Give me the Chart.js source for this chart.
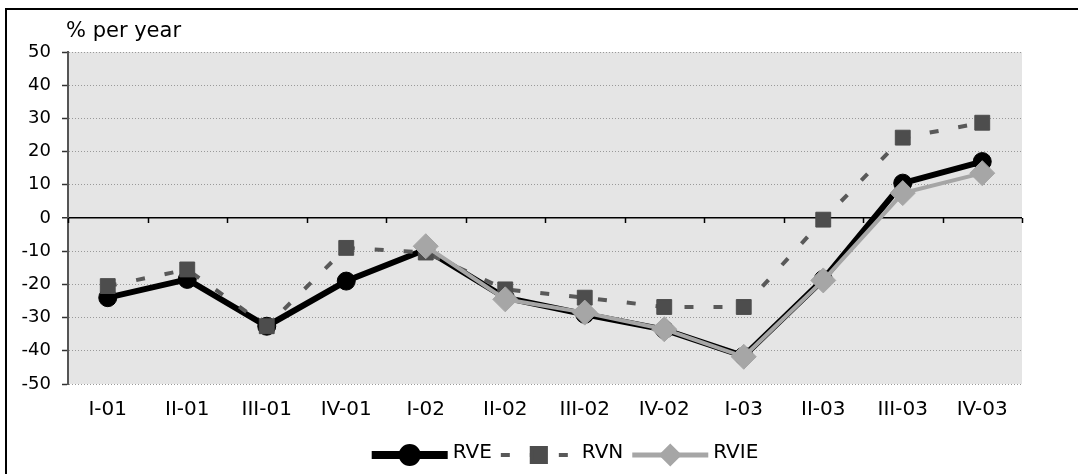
<!DOCTYPE html>
<html>
<head>
<meta charset="utf-8">
<script src="https://cdn.jsdelivr.net/npm/chart.js@4.4.1/dist/chart.umd.min.js"></script>
<style>
  body { margin: 0; background: #fff; }
  canvas { display: block; }
</style>
</head>
<body>
<canvas id="myChart" width="1078" height="474"></canvas>
<script>
// quarters
const quarters = ['I-01', 'II-01', 'III-01', 'IV-01', 'I-02', 'II-02', 'III-02', 'IV-02', 'I-03', 'II-03', 'III-03', 'IV-03'];

// % per year
const rve = [-24, -18.5, -32.6, -19, -9.5, -24, -29, -33.6, -41.6, -18.5, 10.5, 17];
const rvn = [-20.5, -15.5, -32.6, -9, -10.4, -21.5, -24, -26.8, -26.8, -0.5, 24.2, 28.7];
const rvie = [null, null, null, null, -8.5, -24.5, -28.5, -33.5, -41.8, -18.8, 7.5, 13.5];

const yTicks = [-50, -40, -30, -20, -10, 0, 10, 20, 30, 40, 50];

Chart.defaults.font.family = '"DejaVu Sans", Verdana, sans-serif';
Chart.defaults.color = '#000';

var ctx = document.getElementById('myChart');

// background, frame, zero line ticks, unit label, legend
const decor = {
  id: 'decor',
  beforeDraw(chart) {
    const c = chart.ctx;
    const a = chart.chartArea;
    c.save();
    c.fillStyle = '#e5e5e5';
    c.fillRect(a.left, a.top, a.right - a.left, a.bottom - a.top);
    // frame of the picture (top and left only)
    c.fillStyle = '#000';
    c.fillRect(5, 8, chart.width, 2);
    c.fillRect(5, 8, 2, chart.height);
    c.restore();
  },
  beforeDatasetsDraw(chart) {
    const c = chart.ctx;
    const x = chart.scales.x;
    const y0 = chart.scales.y.getPixelForValue(0);
    c.save();
    c.strokeStyle = '#000';
    c.lineWidth = 1.5;
    for (let i = 0; i <= quarters.length; i++) {
      const px = Math.round(x.getPixelForValue(i - 0.5)) + 0.5;
      c.beginPath();
      c.moveTo(px, y0);
      c.lineTo(px, y0 + 5);
      c.stroke();
    }
    c.restore();
  },
  afterDraw(chart) {
    const c = chart.ctx;
    const a = chart.chartArea;
    c.save();
    c.fillStyle = '#000';
    c.font = '21px "DejaVu Sans"';
    c.textBaseline = 'alphabetic';
    c.textAlign = 'left';
    c.fillText('% per year', a.left - 2, 37);

    // legend: line + marker, then text
    c.font = '20px "DejaVu Sans"';
    const lineW = 76;
    const items = chart.data.datasets.map(ds => ({
      ds: ds,
      w: c.measureText(ds.label).width
    }));
    let total = 0;
    items.forEach((it, i) => { total += lineW + 5 + it.w + (i < items.length - 1 ? 9 : 0); });
    let x = (a.left + a.right) / 2 + 20 - total / 2;
    const ly = 455;
    const legendLine = [8, 4, 5];
    const legendRadius = [7, 10, 8];
    items.forEach((it, i) => {
      const ds = it.ds;
      c.save();
      c.strokeStyle = ds.borderColor;
      c.lineWidth = legendLine[i];
      c.setLineDash(ds.borderDash || []);
      c.beginPath();
      c.moveTo(x, ly);
      c.lineTo(x + lineW, ly);
      c.stroke();
      c.setLineDash([]);
      c.fillStyle = ds.pointBackgroundColor;
      c.strokeStyle = ds.pointBorderColor;
      Chart.helpers.drawPoint(c, {
        pointStyle: ds.pointStyle,
        radius: legendRadius[i],
        rotation: 0,
        borderWidth: 1
      }, x + lineW / 2, ly);
      c.restore();
      c.fillStyle = '#000';
      c.textBaseline = 'middle';
      c.fillText(ds.label, x + lineW + 5, ly - 2);
      x += lineW + 5 + it.w + 9;
    });
    c.restore();
  }
};

var myChart = new Chart(ctx, {
  type: 'line',
  data: {
    labels: quarters,
    datasets: [
      {
        label: 'RVE',
        data: rve,
        order: 3,
        borderColor: '#000',
        borderWidth: 6,
        pointStyle: 'circle',
        pointRadius: 9,
        pointBackgroundColor: '#000',
        pointBorderColor: '#000',
        pointBorderWidth: 1,
        tension: 0
      },
      {
        label: 'RVN',
        data: rvn,
        order: 2,
        borderColor: '#595959',
        borderWidth: 4,
        borderDash: [9, 20],
        pointStyle: 'rect',
        pointRadius: 10.5,
        pointBackgroundColor: '#4d4d4d',
        pointBorderColor: '#4d4d4d',
        pointBorderWidth: 1,
        tension: 0
      },
      {
        label: 'RVIE',
        data: rvie,
        order: 1,
        borderColor: '#a6a6a6',
        borderWidth: 4,
        pointStyle: 'rectRot',
        pointRadius: 12.5,
        pointBackgroundColor: '#a6a6a6',
        pointBorderColor: '#a6a6a6',
        pointBorderWidth: 1,
        tension: 0
      }
    ]
  },
  options: {
    responsive: false,
    animation: false,
    layout: {
      padding: { top: 52, right: 56, bottom: 40, left: 0 }
    },
    plugins: {
      legend: { display: false },
      tooltip: { enabled: false }
    },
    scales: {
      x: {
        offset: true,
        grid: { display: false, drawTicks: false },
        border: { display: false },
        ticks: {
          font: { size: 20 },
          padding: 14,
          maxRotation: 0,
          autoSkip: false
        },
        afterFit: s => { s.height = 50; }
      },
      y: {
        min: -50,
        max: 50,
        afterBuildTicks: s => { s.ticks = yTicks.map(v => ({ value: v })); },
        afterFit: s => { s.width = 68; },
        ticks: {
          font: { size: 18 },
          padding: 11
        },
        grid: {
          color: c => (c.tick && c.tick.value === 0) ? '#000' : '#999',
          lineWidth: c => (c.tick && c.tick.value === 0) ? 1.5 : 1,
          drawTicks: true,
          tickLength: 6,
          tickColor: '#333',
          tickWidth: 1.5
        },
        border: {
          display: true,
          color: '#555',
          width: 2,
          dash: c => (c.tick && c.tick.value === 0) ? [] : [1, 2]
        }
      }
    }
  },
  plugins: [decor]
});
</script>
</body>
</html>
